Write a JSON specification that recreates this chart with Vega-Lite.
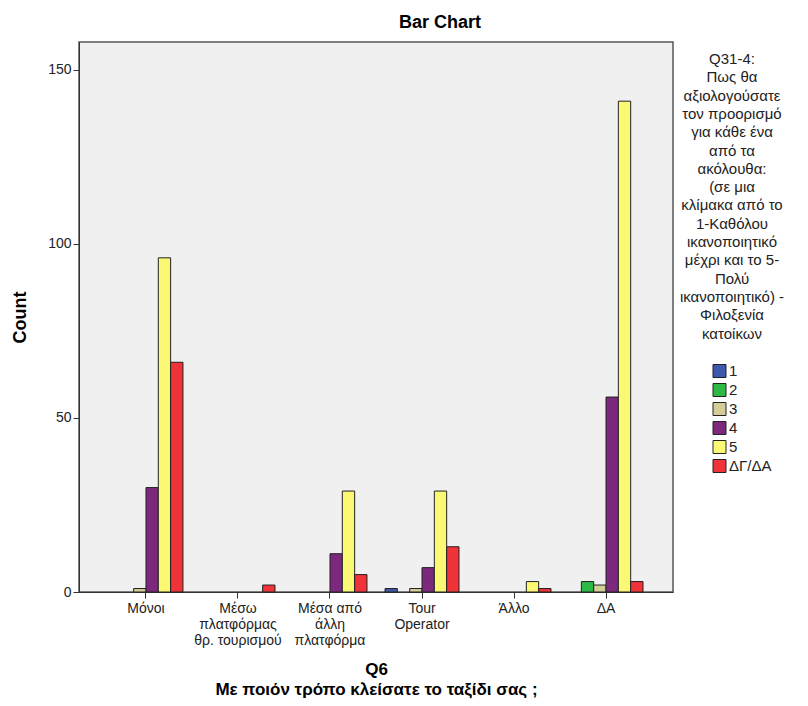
{
  "$schema": "https://vega.github.io/schema/vega-lite/v6.json",
  "autosize": {"type": "none"},
  "width": 594,
  "height": 550,
  "padding": {"left": 79, "top": 42, "right": 135, "bottom": 114},
  "background": "white",
  "title": {
    "text": "Bar Chart",
    "anchor": "middle",
    "frame": "group",
    "dx": 64,
    "offset": 10,
    "font": "Liberation Sans",
    "fontSize": 18,
    "fontWeight": "bold",
    "color": "#000"
  },
  "config": {
    "view": {"fill": "#f0f0f0", "stroke": "#555", "strokeWidth": 1.5},
    "font": "Liberation Sans"
  },
  "data": {
    "values": [
      {"q6": "Μόνοι", "rating": "3", "count": 1},
      {"q6": "Μόνοι", "rating": "4", "count": 30},
      {"q6": "Μόνοι", "rating": "5", "count": 96},
      {"q6": "Μόνοι", "rating": "ΔΓ/ΔΑ", "count": 66},
      {"q6": "Μέσω\nπλατφόρμας\nθρ. τουρισμού", "rating": "ΔΓ/ΔΑ", "count": 2},
      {"q6": "Μέσα από\nάλλη\nπλατφόρμα", "rating": "4", "count": 11},
      {"q6": "Μέσα από\nάλλη\nπλατφόρμα", "rating": "5", "count": 29},
      {"q6": "Μέσα από\nάλλη\nπλατφόρμα", "rating": "ΔΓ/ΔΑ", "count": 5},
      {"q6": "Tour\nOperator", "rating": "1", "count": 1},
      {"q6": "Tour\nOperator", "rating": "3", "count": 1},
      {"q6": "Tour\nOperator", "rating": "4", "count": 7},
      {"q6": "Tour\nOperator", "rating": "5", "count": 29},
      {"q6": "Tour\nOperator", "rating": "ΔΓ/ΔΑ", "count": 13},
      {"q6": "Άλλο", "rating": "5", "count": 3},
      {"q6": "Άλλο", "rating": "ΔΓ/ΔΑ", "count": 1},
      {"q6": "ΔΑ", "rating": "2", "count": 3},
      {"q6": "ΔΑ", "rating": "3", "count": 2},
      {"q6": "ΔΑ", "rating": "4", "count": 56},
      {"q6": "ΔΑ", "rating": "5", "count": 141},
      {"q6": "ΔΑ", "rating": "ΔΓ/ΔΑ", "count": 3}
    ]
  },
  "mark": {"type": "bar", "stroke": "#222", "strokeWidth": 1},
  "encoding": {
    "x": {
      "field": "q6",
      "type": "nominal",
      "sort": null,
      "scale": {
        "domain": ["Μόνοι", "Μέσω\nπλατφόρμας\nθρ. τουρισμού", "Μέσα από\nάλλη\nπλατφόρμα", "Tour\nOperator", "Άλλο", "ΔΑ"],
        "paddingInner": 0.196,
        "paddingOuter": 0.326
      },
      "axis": {
        "title": ["Q6", "Με ποιόν τρόπο κλείσατε το ταξίδι σας ;"],
        "titleFont": "Liberation Sans",
        "titleFontSize": 17,
        "titleFontWeight": "bold",
        "titleColor": "#000",
        "titleLineHeight": 20,
        "titlePadding": 14,
        "labelAngle": 0,
        "labelExpr": "split(datum.label, '\\n')",
        "labelFont": "Liberation Sans",
        "labelFontSize": 14,
        "labelColor": "#222",
        "labelLineHeight": 16,
        "labelPadding": 3,
        "labelLimit": 200,
        "tickColor": "#333",
        "tickSize": 6,
        "domainColor": "#333",
        "grid": false
      }
    },
    "xOffset": {
      "field": "rating",
      "type": "nominal",
      "scale": {"domain": ["1", "2", "3", "4", "5", "ΔΓ/ΔΑ"], "paddingInner": 0, "paddingOuter": 0}
    },
    "y": {
      "field": "count",
      "type": "quantitative",
      "scale": {"domain": [0, 158], "nice": false},
      "axis": {
        "title": "Count",
        "titleFont": "Liberation Sans",
        "titleFontSize": 18,
        "titleFontWeight": "bold",
        "titleColor": "#000",
        "titlePadding": 18,
        "values": [0, 50, 100, 150],
        "labelFont": "Liberation Sans",
        "labelFontSize": 14,
        "labelColor": "#222",
        "tickColor": "#333",
        "tickSize": 6,
        "domainColor": "#333",
        "grid": false
      }
    },
    "color": {
      "field": "rating",
      "type": "nominal",
      "scale": {
        "domain": ["1", "2", "3", "4", "5", "ΔΓ/ΔΑ"],
        "range": ["#3E58AC", "#2EB848", "#D3CE97", "#7C287D", "#FBF873", "#EF3338"]
      },
      "legend": {
        "title": ["Q31-4:", "Πως θα", "αξιολογούσατε", "τον προορισμό", "για κάθε ένα", "από τα", "ακόλουθα:", "(σε μια", "κλίμακα από το", "1-Καθόλου", "ικανοποιητικό", "μέχρι και το 5-", "Πολύ", "ικανοποιητικό) -", "Φιλοξενία", "κατοίκων"],
        "orient": "none",
        "legendX": 601,
        "legendY": 10,
        "titleFont": "Liberation Sans",
        "titleFontSize": 15,
        "titleFontWeight": "normal",
        "titleColor": "#222",
        "titleLineHeight": 18.3,
        "titleAlign": "center",
        "titleAnchor": "middle",
        "titleLimit": 200,
        "titlePadding": 22,
        "symbolType": "square",
        "symbolSize": 169,
        "symbolStrokeColor": "#222",
        "symbolStrokeWidth": 1,
        "symbolOpacity": 1,
        "symbolOffset": 20,
        "labelFont": "Liberation Sans",
        "labelFontSize": 15,
        "labelColor": "#222",
        "labelOffset": 2,
        "rowPadding": 2
      }
    }
  }
}
